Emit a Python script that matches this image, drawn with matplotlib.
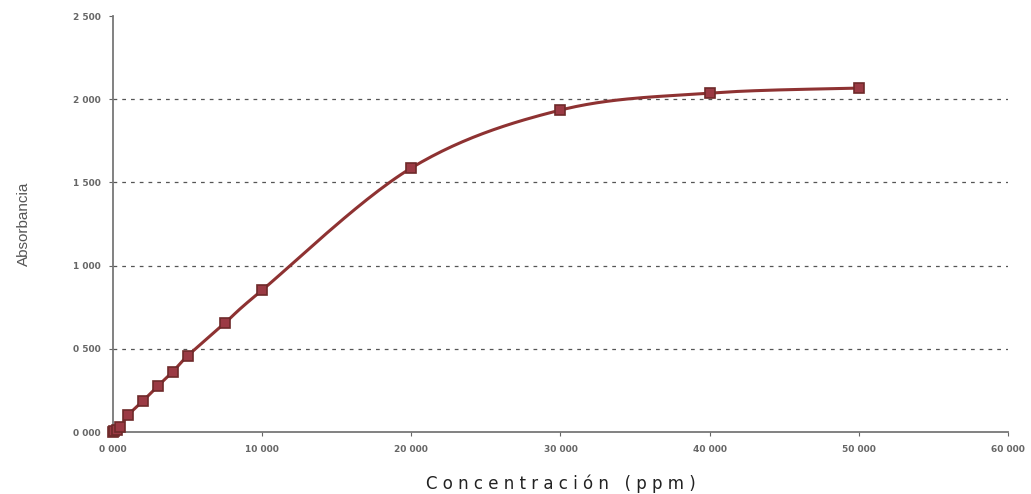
import numpy as np
import matplotlib.pyplot as plt

# concentracion (ppm) y absorbancia
conc = [0, 0.1, 0.25, 0.5, 1, 2, 3, 4, 5, 7.5, 10, 20, 30, 40, 50]
absorb = [0.0, 0.005, 0.012, 0.03, 0.100, 0.186, 0.276, 0.362, 0.457, 0.655, 0.853, 1.587, 1.935, 2.037, 2.067]

x_ticks = [0, 10, 20, 30, 40, 50, 60]
y_ticks = [0, 0.5, 1.0, 1.5, 2.0, 2.5]


def smooth(x, y, n=30):
    # catmull-rom, like the spreadsheet "smoothed line"
    x = np.asarray(x, float)
    y = np.asarray(y, float)
    px = np.concatenate([[x[0]], x, [x[-1]]])
    py = np.concatenate([[y[0]], y, [y[-1]]])
    xs, ys = [], []
    t = np.linspace(0, 1, n)
    for i in range(1, len(px) - 2):
        for p, out in ((px, xs), (py, ys)):
            p0, p1, p2, p3 = p[i - 1], p[i], p[i + 1], p[i + 2]
            out.extend(0.5 * (2 * p1 + (-p0 + p2) * t
                              + (2 * p0 - 5 * p1 + 4 * p2 - p3) * t ** 2
                              + (-p0 + 3 * p1 - 3 * p2 + p3) * t ** 3))
    return xs, ys


fig = plt.figure(figsize=(10.31, 4.94), dpi=100)
ax = fig.add_axes([0.1096, 0.1255, 0.868, 0.842])

for v in y_ticks[1:-1]:
    ax.axhline(v, color="#555555", lw=0.9, ls=(0, (3, 4)), zorder=1)

sx, sy = smooth(conc, absorb)
ax.plot(sx, sy, color="#8e3232", lw=2.2, zorder=2, clip_on=False)
ax.plot(conc, absorb, ls="none", marker="s", ms=7.5, mfc="#9b3a44",
        mec="#6e2a2a", mew=1.2, zorder=3, clip_on=False)

ax.set_xlim(0, 60)
ax.set_ylim(0, 2.5)
ax.set_xticks(x_ticks)
ax.set_yticks(y_ticks)
ax.set_xticklabels(["{:.3f}".format(v).replace(".", " ") if v else "0 000" for v in x_ticks])
ax.set_yticklabels(["{:.3f}".format(v).replace(".", " ") for v in y_ticks])
ax.tick_params(labelsize=6.5, colors="#666666", length=3, width=0.8, pad=6)
for lab in ax.get_xticklabels() + ax.get_yticklabels():
    lab.set_fontweight("bold")

for s in ("top", "right"):
    ax.spines[s].set_visible(False)
for s in ("left", "bottom"):
    ax.spines[s].set_color("#777777")
    ax.spines[s].set_linewidth(1.3)

ax.set_xlabel("C o n c e n t r a c i ó n   ( p p m )", fontsize=12, color="#222222", labelpad=15)
ax.set_ylabel("Absorbancia", fontsize=11, color="#555555", labelpad=30,
              family=["Liberation Sans", "DejaVu Sans"])

fig.savefig("out.png", dpi=100)
